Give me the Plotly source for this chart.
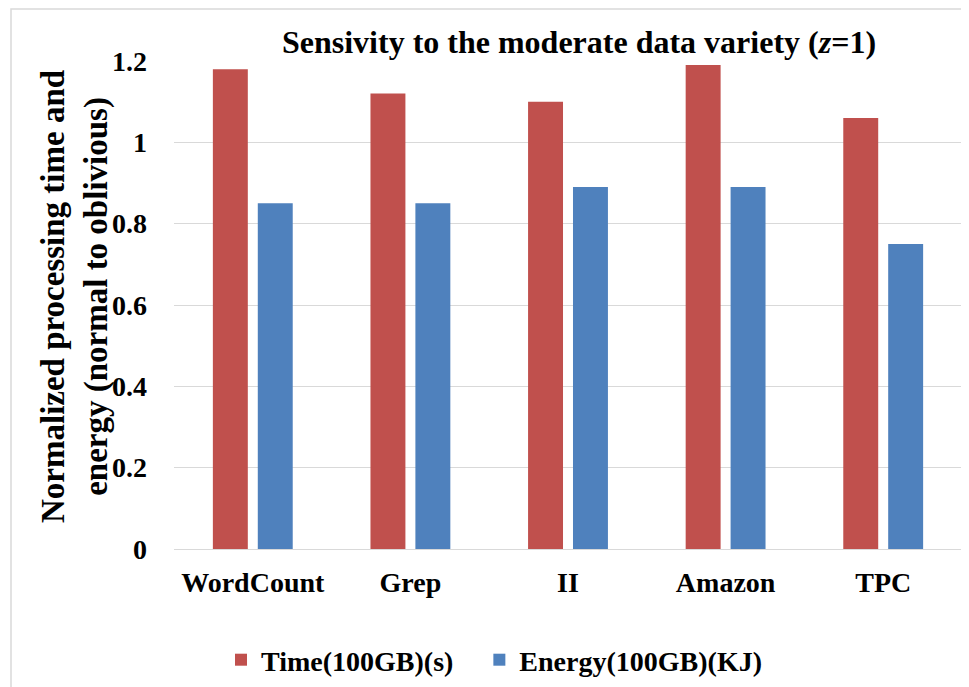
import plotly.graph_objects as go

categories = ["WordCount", "Grep", "II", "Amazon", "TPC"]
time_vals = [1.18, 1.12, 1.10, 1.19, 1.06]
energy_vals = [0.85, 0.85, 0.89, 0.89, 0.75]
series_names = ["Time(100GB)(s)", "Energy(100GB)(KJ)"]
y_ticks = [0, 0.2, 0.4, 0.6, 0.8, 1, 1.2]
y_tick_text = ["0", "0.2", "0.4", "0.6", "0.8", "1", "1.2"]

FONT = "Liberation Serif"
W, H = 969, 687
OFF = 8  # page body margin offset
# target plot area in page pixels: x 174-962, y 61-549
L = 174 - OFF
R = W - (962 - OFF)
T = 61 - OFF
B = H - (549 - OFF)
pw, ph = W - L - R, H - T - B

fig = go.Figure()
fig.add_trace(go.Bar(x=categories, y=time_vals,
                     name="<b>%s</b>&nbsp;&nbsp;&nbsp;" % series_names[0],
                     marker=dict(color="#C0504D", line=dict(width=0))))
fig.add_trace(go.Bar(x=categories, y=energy_vals,
                     name="<b>%s</b>" % series_names[1],
                     marker=dict(color="#4F81BD", line=dict(width=0))))

def px_x(p):
    return (p - OFF - L) / pw

def px_y(p):
    return (H - B - (p - OFF)) / ph

fig.update_layout(
    width=W, height=H,
    margin=dict(l=L, r=R, t=T, b=B, pad=0, autoexpand=False),
    paper_bgcolor="white", plot_bgcolor="white",
    barmode="group", bargap=0.43, bargroupgap=0.222,
    font=dict(family=FONT, size=28, color="black"),
    title=dict(text="<b>Sensivity to the moderate data variety (<i>z</i>=1)</b>",
               x=(579 - OFF) / W, xref="container", xanchor="center",
               y=1 - (42 - OFF) / H, yref="container", yanchor="middle",
               font=dict(family=FONT, size=32, color="black")),
    xaxis=dict(showgrid=False, showline=False, zeroline=False,
               tickfont=dict(family=FONT, size=28, color="black"),
               ticklabelstandoff=14,
               tickvals=categories,
               ticktext=["<b>%s</b>" % c for c in categories]),
    yaxis=dict(range=[0, 1.2], tickvals=y_ticks,
               ticktext=["<b>%s</b>" % t for t in y_tick_text],
               showgrid=True, gridcolor="#D9D9D9", gridwidth=1,
               zeroline=True, zerolinecolor="#D9D9D9", zerolinewidth=1,
               showline=False,
               ticklabelstandoff=26,
               tickfont=dict(family=FONT, size=28, color="black")),
    showlegend=True,
    legend=dict(orientation="h", x=px_x(494), xanchor="center",
                y=px_y(660), yanchor="middle",
                font=dict(family=FONT, size=28, color="black"),
                itemsizing="constant", bgcolor="rgba(0,0,0,0)"),
)

fig.add_annotation(
    text="<b>Normalized processing time and<br>energy (normal to oblivious)</b>",
    textangle=-90, xref="paper", yref="paper",
    x=px_x(75), y=px_y(297), xanchor="center", yanchor="middle",
    showarrow=False, font=dict(family=FONT, size=33, color="black"))

fig.add_shape(type="rect", xref="paper", yref="paper",
              x0=px_x(11), x1=px_x(990), y0=px_y(710), y1=px_y(9),
              line=dict(color="#D9D9D9", width=1.5), fillcolor="rgba(0,0,0,0)",
              layer="below")

fig.write_html("out.html")
